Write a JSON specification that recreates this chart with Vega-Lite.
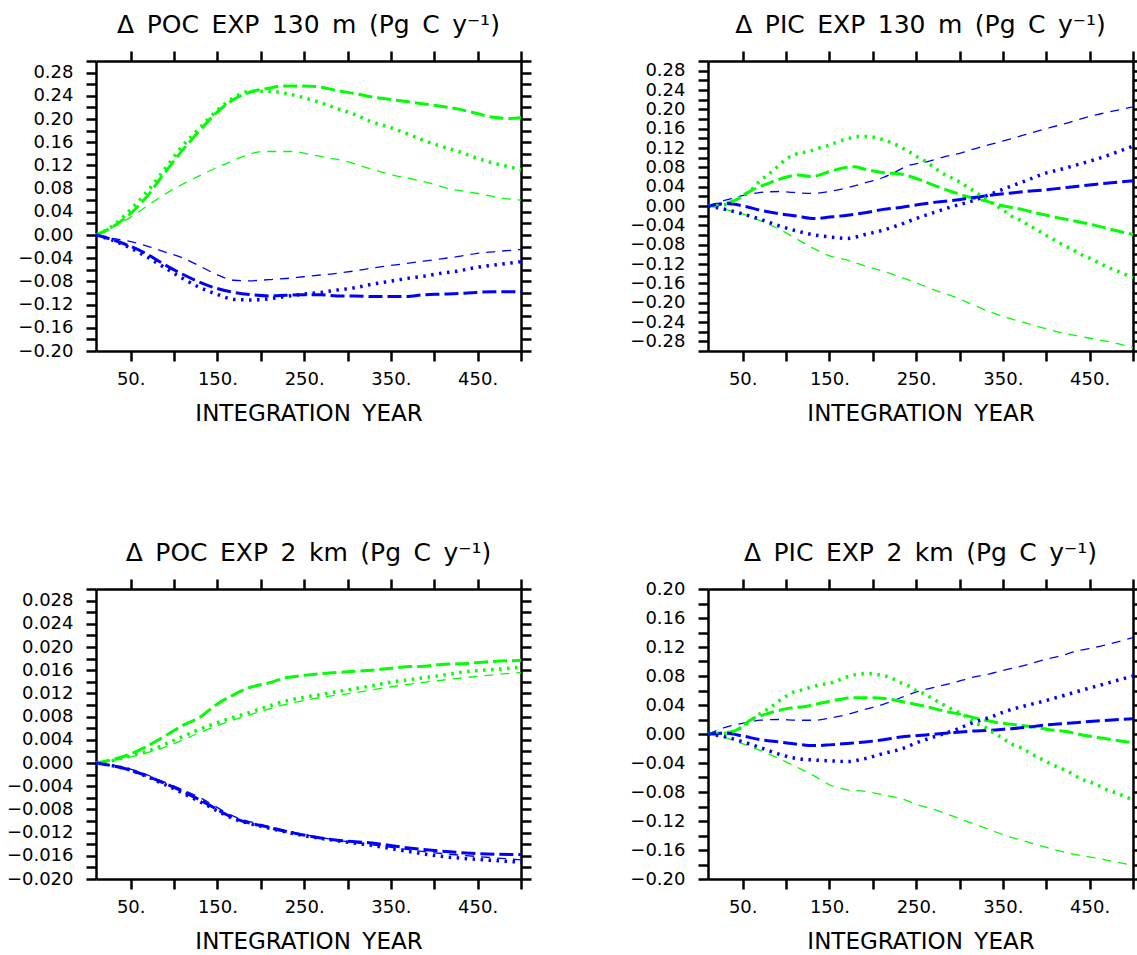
{
"$schema":"https://vega.github.io/schema/vega-lite/v6.json",
"padding":{"left":6,"top":12,"right":0,"bottom":0},
"background":"white",
"columns":2,
"bounds":"flush",
"spacing":{"row":238,"column":187},
"datasets":{"d":[
{"p":"TL","g":"G","m":"k","x":10,"y":0},{"p":"TL","g":"G","m":"k","x":29,"y":0.014},{"p":"TL","g":"G","m":"k","x":49,"y":0.036},{"p":"TL","g":"G","m":"k","x":69,"y":0.067},{"p":"TL","g":"G","m":"k","x":89,"y":0.107},{"p":"TL","g":"G","m":"k","x":109,"y":0.145},{"p":"TL","g":"G","m":"k","x":129,"y":0.179},{"p":"TL","g":"G","m":"k","x":149,"y":0.211},{"p":"TL","g":"G","m":"k","x":169,"y":0.234},{"p":"TL","g":"G","m":"k","x":189,"y":0.247},{"p":"TL","g":"G","m":"k","x":209,"y":0.253},{"p":"TL","g":"G","m":"k","x":225,"y":0.257},{"p":"TL","g":"G","m":"k","x":249,"y":0.257},{"p":"TL","g":"G","m":"k","x":269,"y":0.255},{"p":"TL","g":"G","m":"k","x":288,"y":0.249},{"p":"TL","g":"G","m":"k","x":308,"y":0.244},{"p":"TL","g":"G","m":"k","x":328,"y":0.238},{"p":"TL","g":"G","m":"k","x":348,"y":0.234},{"p":"TL","g":"G","m":"k","x":368,"y":0.230},{"p":"TL","g":"G","m":"k","x":388,"y":0.226},{"p":"TL","g":"G","m":"k","x":408,"y":0.222},{"p":"TL","g":"G","m":"k","x":428,"y":0.217},{"p":"TL","g":"G","m":"k","x":448,"y":0.210},{"p":"TL","g":"G","m":"k","x":468,"y":0.203},{"p":"TL","g":"G","m":"k","x":488,"y":0.201},{"p":"TL","g":"G","m":"k","x":500,"y":0.202},
{"p":"TL","g":"G","m":"d","x":10,"y":0},{"p":"TL","g":"G","m":"d","x":29,"y":0.0155},{"p":"TL","g":"G","m":"d","x":49,"y":0.0425},{"p":"TL","g":"G","m":"d","x":69,"y":0.075},{"p":"TL","g":"G","m":"d","x":89,"y":0.113},{"p":"TL","g":"G","m":"d","x":109,"y":0.152},{"p":"TL","g":"G","m":"d","x":129,"y":0.184},{"p":"TL","g":"G","m":"d","x":149,"y":0.214},{"p":"TL","g":"G","m":"d","x":169,"y":0.237},{"p":"TL","g":"G","m":"d","x":189,"y":0.248},{"p":"TL","g":"G","m":"d","x":209,"y":0.248},{"p":"TL","g":"G","m":"d","x":229,"y":0.244},{"p":"TL","g":"G","m":"d","x":249,"y":0.237},{"p":"TL","g":"G","m":"d","x":269,"y":0.228},{"p":"TL","g":"G","m":"d","x":288,"y":0.218},{"p":"TL","g":"G","m":"d","x":308,"y":0.208},{"p":"TL","g":"G","m":"d","x":328,"y":0.195},{"p":"TL","g":"G","m":"d","x":348,"y":0.186},{"p":"TL","g":"G","m":"d","x":368,"y":0.175},{"p":"TL","g":"G","m":"d","x":388,"y":0.163},{"p":"TL","g":"G","m":"d","x":408,"y":0.153},{"p":"TL","g":"G","m":"d","x":428,"y":0.144},{"p":"TL","g":"G","m":"d","x":448,"y":0.133},{"p":"TL","g":"G","m":"d","x":468,"y":0.124},{"p":"TL","g":"G","m":"d","x":488,"y":0.117},{"p":"TL","g":"G","m":"d","x":500,"y":0.112},
{"p":"TL","g":"G","m":"t","x":10,"y":0},{"p":"TL","g":"G","m":"t","x":29,"y":0.013},{"p":"TL","g":"G","m":"t","x":49,"y":0.030},{"p":"TL","g":"G","m":"t","x":69,"y":0.050},{"p":"TL","g":"G","m":"t","x":89,"y":0.070},{"p":"TL","g":"G","m":"t","x":109,"y":0.087},{"p":"TL","g":"G","m":"t","x":129,"y":0.102},{"p":"TL","g":"G","m":"t","x":149,"y":0.116},{"p":"TL","g":"G","m":"t","x":169,"y":0.129},{"p":"TL","g":"G","m":"t","x":189,"y":0.140},{"p":"TL","g":"G","m":"t","x":201,"y":0.144},{"p":"TL","g":"G","m":"t","x":217,"y":0.144},{"p":"TL","g":"G","m":"t","x":237,"y":0.144},{"p":"TL","g":"G","m":"t","x":257,"y":0.139},{"p":"TL","g":"G","m":"t","x":277,"y":0.133},{"p":"TL","g":"G","m":"t","x":296,"y":0.128},{"p":"TL","g":"G","m":"t","x":316,"y":0.119},{"p":"TL","g":"G","m":"t","x":336,"y":0.110},{"p":"TL","g":"G","m":"t","x":356,"y":0.102},{"p":"TL","g":"G","m":"t","x":376,"y":0.096},{"p":"TL","g":"G","m":"t","x":396,"y":0.089},{"p":"TL","g":"G","m":"t","x":416,"y":0.080},{"p":"TL","g":"G","m":"t","x":436,"y":0.075},{"p":"TL","g":"G","m":"t","x":456,"y":0.070},{"p":"TL","g":"G","m":"t","x":476,"y":0.064},{"p":"TL","g":"G","m":"t","x":500,"y":0.060},
{"p":"TL","g":"B","m":"t","x":10,"y":0},{"p":"TL","g":"B","m":"t","x":29,"y":-0.006},{"p":"TL","g":"B","m":"t","x":49,"y":-0.011},{"p":"TL","g":"B","m":"t","x":69,"y":-0.019},{"p":"TL","g":"B","m":"t","x":89,"y":-0.029},{"p":"TL","g":"B","m":"t","x":109,"y":-0.039},{"p":"TL","g":"B","m":"t","x":129,"y":-0.053},{"p":"TL","g":"B","m":"t","x":149,"y":-0.068},{"p":"TL","g":"B","m":"t","x":169,"y":-0.078},{"p":"TL","g":"B","m":"t","x":185,"y":-0.079},{"p":"TL","g":"B","m":"t","x":209,"y":-0.077},{"p":"TL","g":"B","m":"t","x":229,"y":-0.075},{"p":"TL","g":"B","m":"t","x":249,"y":-0.072},{"p":"TL","g":"B","m":"t","x":269,"y":-0.069},{"p":"TL","g":"B","m":"t","x":288,"y":-0.066},{"p":"TL","g":"B","m":"t","x":308,"y":-0.062},{"p":"TL","g":"B","m":"t","x":328,"y":-0.057},{"p":"TL","g":"B","m":"t","x":348,"y":-0.053},{"p":"TL","g":"B","m":"t","x":368,"y":-0.049},{"p":"TL","g":"B","m":"t","x":388,"y":-0.045},{"p":"TL","g":"B","m":"t","x":408,"y":-0.041},{"p":"TL","g":"B","m":"t","x":428,"y":-0.037},{"p":"TL","g":"B","m":"t","x":448,"y":-0.032},{"p":"TL","g":"B","m":"t","x":468,"y":-0.029},{"p":"TL","g":"B","m":"t","x":500,"y":-0.025},
{"p":"TL","g":"B","m":"k","x":10,"y":0},{"p":"TL","g":"B","m":"k","x":29,"y":-0.008},{"p":"TL","g":"B","m":"k","x":49,"y":-0.019},{"p":"TL","g":"B","m":"k","x":69,"y":-0.033},{"p":"TL","g":"B","m":"k","x":89,"y":-0.051},{"p":"TL","g":"B","m":"k","x":109,"y":-0.067},{"p":"TL","g":"B","m":"k","x":129,"y":-0.081},{"p":"TL","g":"B","m":"k","x":149,"y":-0.092},{"p":"TL","g":"B","m":"k","x":169,"y":-0.099},{"p":"TL","g":"B","m":"k","x":189,"y":-0.103},{"p":"TL","g":"B","m":"k","x":209,"y":-0.105},{"p":"TL","g":"B","m":"k","x":229,"y":-0.104},{"p":"TL","g":"B","m":"k","x":249,"y":-0.103},{"p":"TL","g":"B","m":"k","x":269,"y":-0.103},{"p":"TL","g":"B","m":"k","x":288,"y":-0.105},{"p":"TL","g":"B","m":"k","x":308,"y":-0.105},{"p":"TL","g":"B","m":"k","x":328,"y":-0.106},{"p":"TL","g":"B","m":"k","x":348,"y":-0.106},{"p":"TL","g":"B","m":"k","x":368,"y":-0.106},{"p":"TL","g":"B","m":"k","x":388,"y":-0.103},{"p":"TL","g":"B","m":"k","x":408,"y":-0.102},{"p":"TL","g":"B","m":"k","x":428,"y":-0.101},{"p":"TL","g":"B","m":"k","x":448,"y":-0.099},{"p":"TL","g":"B","m":"k","x":468,"y":-0.098},{"p":"TL","g":"B","m":"k","x":500,"y":-0.098},
{"p":"TL","g":"B","m":"d","x":10,"y":0},{"p":"TL","g":"B","m":"d","x":29,"y":-0.009},{"p":"TL","g":"B","m":"d","x":49,"y":-0.022},{"p":"TL","g":"B","m":"d","x":69,"y":-0.038},{"p":"TL","g":"B","m":"d","x":89,"y":-0.056},{"p":"TL","g":"B","m":"d","x":109,"y":-0.074},{"p":"TL","g":"B","m":"d","x":129,"y":-0.090},{"p":"TL","g":"B","m":"d","x":149,"y":-0.102},{"p":"TL","g":"B","m":"d","x":169,"y":-0.111},{"p":"TL","g":"B","m":"d","x":189,"y":-0.112},{"p":"TL","g":"B","m":"d","x":209,"y":-0.110},{"p":"TL","g":"B","m":"d","x":229,"y":-0.106},{"p":"TL","g":"B","m":"d","x":249,"y":-0.102},{"p":"TL","g":"B","m":"d","x":269,"y":-0.099},{"p":"TL","g":"B","m":"d","x":288,"y":-0.095},{"p":"TL","g":"B","m":"d","x":308,"y":-0.091},{"p":"TL","g":"B","m":"d","x":328,"y":-0.085},{"p":"TL","g":"B","m":"d","x":348,"y":-0.080},{"p":"TL","g":"B","m":"d","x":368,"y":-0.075},{"p":"TL","g":"B","m":"d","x":388,"y":-0.071},{"p":"TL","g":"B","m":"d","x":408,"y":-0.066},{"p":"TL","g":"B","m":"d","x":428,"y":-0.062},{"p":"TL","g":"B","m":"d","x":448,"y":-0.056},{"p":"TL","g":"B","m":"d","x":468,"y":-0.052},{"p":"TL","g":"B","m":"d","x":500,"y":-0.046},

{"p":"TR","g":"G","m":"d","x":10,"y":0},{"p":"TR","g":"G","m":"d","x":30,"y":0.003},{"p":"TR","g":"G","m":"d","x":39,"y":0.010},{"p":"TR","g":"G","m":"d","x":50,"y":0.021},{"p":"TR","g":"G","m":"d","x":60,"y":0.034},{"p":"TR","g":"G","m":"d","x":70,"y":0.052},{"p":"TR","g":"G","m":"d","x":81,"y":0.067},{"p":"TR","g":"G","m":"d","x":91,"y":0.083},{"p":"TR","g":"G","m":"d","x":100,"y":0.097},{"p":"TR","g":"G","m":"d","x":109,"y":0.106},{"p":"TR","g":"G","m":"d","x":119,"y":0.110},{"p":"TR","g":"G","m":"d","x":130,"y":0.115},{"p":"TR","g":"G","m":"d","x":140,"y":0.121},{"p":"TR","g":"G","m":"d","x":150,"y":0.126},{"p":"TR","g":"G","m":"d","x":160,"y":0.133},{"p":"TR","g":"G","m":"d","x":171,"y":0.139},{"p":"TR","g":"G","m":"d","x":181,"y":0.143},{"p":"TR","g":"G","m":"d","x":190,"y":0.144},{"p":"TR","g":"G","m":"d","x":199,"y":0.143},{"p":"TR","g":"G","m":"d","x":210,"y":0.138},{"p":"TR","g":"G","m":"d","x":220,"y":0.132},{"p":"TR","g":"G","m":"d","x":230,"y":0.124},{"p":"TR","g":"G","m":"d","x":240,"y":0.114},{"p":"TR","g":"G","m":"d","x":250,"y":0.103},{"p":"TR","g":"G","m":"d","x":260,"y":0.093},{"p":"TR","g":"G","m":"d","x":270,"y":0.081},{"p":"TR","g":"G","m":"d","x":279,"y":0.069},{"p":"TR","g":"G","m":"d","x":290,"y":0.059},{"p":"TR","g":"G","m":"d","x":300,"y":0.050},{"p":"TR","g":"G","m":"d","x":310,"y":0.038},{"p":"TR","g":"G","m":"d","x":319,"y":0.028},{"p":"TR","g":"G","m":"d","x":330,"y":0.014},{"p":"TR","g":"G","m":"d","x":340,"y":0.003},{"p":"TR","g":"G","m":"d","x":350,"y":-0.008},{"p":"TR","g":"G","m":"d","x":360,"y":-0.021},{"p":"TR","g":"G","m":"d","x":371,"y":-0.030},{"p":"TR","g":"G","m":"d","x":381,"y":-0.041},{"p":"TR","g":"G","m":"d","x":390,"y":-0.050},{"p":"TR","g":"G","m":"d","x":400,"y":-0.061},{"p":"TR","g":"G","m":"d","x":410,"y":-0.071},{"p":"TR","g":"G","m":"d","x":420,"y":-0.081},{"p":"TR","g":"G","m":"d","x":430,"y":-0.090},{"p":"TR","g":"G","m":"d","x":440,"y":-0.100},{"p":"TR","g":"G","m":"d","x":450,"y":-0.108},{"p":"TR","g":"G","m":"d","x":460,"y":-0.117},{"p":"TR","g":"G","m":"d","x":470,"y":-0.126},{"p":"TR","g":"G","m":"d","x":480,"y":-0.133},{"p":"TR","g":"G","m":"d","x":490,"y":-0.141},{"p":"TR","g":"G","m":"d","x":500,"y":-0.148},
{"p":"TR","g":"G","m":"k","x":10,"y":0},{"p":"TR","g":"G","m":"k","x":39,"y":0.010},{"p":"TR","g":"G","m":"k","x":60,"y":0.032},{"p":"TR","g":"G","m":"k","x":81,"y":0.048},{"p":"TR","g":"G","m":"k","x":101,"y":0.060},{"p":"TR","g":"G","m":"k","x":113,"y":0.064},{"p":"TR","g":"G","m":"k","x":130,"y":0.061},{"p":"TR","g":"G","m":"k","x":150,"y":0.071},{"p":"TR","g":"G","m":"k","x":167,"y":0.079},{"p":"TR","g":"G","m":"k","x":179,"y":0.081},{"p":"TR","g":"G","m":"k","x":191,"y":0.076},{"p":"TR","g":"G","m":"k","x":212,"y":0.069},{"p":"TR","g":"G","m":"k","x":232,"y":0.066},{"p":"TR","g":"G","m":"k","x":253,"y":0.055},{"p":"TR","g":"G","m":"k","x":273,"y":0.041},{"p":"TR","g":"G","m":"k","x":294,"y":0.028},{"p":"TR","g":"G","m":"k","x":314,"y":0.017},{"p":"TR","g":"G","m":"k","x":331,"y":0.010},{"p":"TR","g":"G","m":"k","x":351,"y":0.000},{"p":"TR","g":"G","m":"k","x":372,"y":-0.007},{"p":"TR","g":"G","m":"k","x":392,"y":-0.016},{"p":"TR","g":"G","m":"k","x":413,"y":-0.024},{"p":"TR","g":"G","m":"k","x":433,"y":-0.031},{"p":"TR","g":"G","m":"k","x":454,"y":-0.039},{"p":"TR","g":"G","m":"k","x":474,"y":-0.048},{"p":"TR","g":"G","m":"k","x":500,"y":-0.059},
{"p":"TR","g":"G","m":"t","x":10,"y":0},{"p":"TR","g":"G","m":"t","x":30,"y":-0.007},{"p":"TR","g":"G","m":"t","x":51,"y":-0.017},{"p":"TR","g":"G","m":"t","x":71,"y":-0.031},{"p":"TR","g":"G","m":"t","x":92,"y":-0.048},{"p":"TR","g":"G","m":"t","x":113,"y":-0.069},{"p":"TR","g":"G","m":"t","x":130,"y":-0.086},{"p":"TR","g":"G","m":"t","x":150,"y":-0.103},{"p":"TR","g":"G","m":"t","x":171,"y":-0.112},{"p":"TR","g":"G","m":"t","x":191,"y":-0.124},{"p":"TR","g":"G","m":"t","x":212,"y":-0.135},{"p":"TR","g":"G","m":"t","x":232,"y":-0.147},{"p":"TR","g":"G","m":"t","x":253,"y":-0.161},{"p":"TR","g":"G","m":"t","x":273,"y":-0.175},{"p":"TR","g":"G","m":"t","x":294,"y":-0.188},{"p":"TR","g":"G","m":"t","x":314,"y":-0.203},{"p":"TR","g":"G","m":"t","x":335,"y":-0.219},{"p":"TR","g":"G","m":"t","x":355,"y":-0.231},{"p":"TR","g":"G","m":"t","x":376,"y":-0.242},{"p":"TR","g":"G","m":"t","x":396,"y":-0.252},{"p":"TR","g":"G","m":"t","x":417,"y":-0.262},{"p":"TR","g":"G","m":"t","x":437,"y":-0.269},{"p":"TR","g":"G","m":"t","x":458,"y":-0.276},{"p":"TR","g":"G","m":"t","x":478,"y":-0.283},{"p":"TR","g":"G","m":"t","x":500,"y":-0.293},
{"p":"TR","g":"B","m":"t","x":10,"y":0},{"p":"TR","g":"B","m":"t","x":30,"y":0.012},{"p":"TR","g":"B","m":"t","x":51,"y":0.022},{"p":"TR","g":"B","m":"t","x":71,"y":0.028},{"p":"TR","g":"B","m":"t","x":92,"y":0.030},{"p":"TR","g":"B","m":"t","x":109,"y":0.028},{"p":"TR","g":"B","m":"t","x":130,"y":0.026},{"p":"TR","g":"B","m":"t","x":150,"y":0.030},{"p":"TR","g":"B","m":"t","x":171,"y":0.038},{"p":"TR","g":"B","m":"t","x":191,"y":0.048},{"p":"TR","g":"B","m":"t","x":212,"y":0.059},{"p":"TR","g":"B","m":"t","x":224,"y":0.069},{"p":"TR","g":"B","m":"t","x":240,"y":0.083},{"p":"TR","g":"B","m":"t","x":261,"y":0.091},{"p":"TR","g":"B","m":"t","x":281,"y":0.101},{"p":"TR","g":"B","m":"t","x":302,"y":0.110},{"p":"TR","g":"B","m":"t","x":322,"y":0.121},{"p":"TR","g":"B","m":"t","x":343,"y":0.131},{"p":"TR","g":"B","m":"t","x":363,"y":0.141},{"p":"TR","g":"B","m":"t","x":384,"y":0.152},{"p":"TR","g":"B","m":"t","x":404,"y":0.162},{"p":"TR","g":"B","m":"t","x":425,"y":0.172},{"p":"TR","g":"B","m":"t","x":445,"y":0.183},{"p":"TR","g":"B","m":"t","x":466,"y":0.192},{"p":"TR","g":"B","m":"t","x":500,"y":0.205},
{"p":"TR","g":"B","m":"k","x":10,"y":0},{"p":"TR","g":"B","m":"k","x":30,"y":0.005},{"p":"TR","g":"B","m":"k","x":51,"y":0.000},{"p":"TR","g":"B","m":"k","x":71,"y":-0.009},{"p":"TR","g":"B","m":"k","x":92,"y":-0.016},{"p":"TR","g":"B","m":"k","x":113,"y":-0.021},{"p":"TR","g":"B","m":"k","x":133,"y":-0.026},{"p":"TR","g":"B","m":"k","x":150,"y":-0.023},{"p":"TR","g":"B","m":"k","x":171,"y":-0.019},{"p":"TR","g":"B","m":"k","x":191,"y":-0.014},{"p":"TR","g":"B","m":"k","x":212,"y":-0.007},{"p":"TR","g":"B","m":"k","x":232,"y":-0.003},{"p":"TR","g":"B","m":"k","x":253,"y":0.003},{"p":"TR","g":"B","m":"k","x":273,"y":0.008},{"p":"TR","g":"B","m":"k","x":294,"y":0.012},{"p":"TR","g":"B","m":"k","x":314,"y":0.017},{"p":"TR","g":"B","m":"k","x":335,"y":0.022},{"p":"TR","g":"B","m":"k","x":355,"y":0.026},{"p":"TR","g":"B","m":"k","x":376,"y":0.030},{"p":"TR","g":"B","m":"k","x":396,"y":0.033},{"p":"TR","g":"B","m":"k","x":417,"y":0.037},{"p":"TR","g":"B","m":"k","x":437,"y":0.041},{"p":"TR","g":"B","m":"k","x":458,"y":0.045},{"p":"TR","g":"B","m":"k","x":500,"y":0.052},
{"p":"TR","g":"B","m":"d","x":10,"y":0},{"p":"TR","g":"B","m":"d","x":30,"y":-0.007},{"p":"TR","g":"B","m":"d","x":51,"y":-0.017},{"p":"TR","g":"B","m":"d","x":71,"y":-0.028},{"p":"TR","g":"B","m":"d","x":92,"y":-0.041},{"p":"TR","g":"B","m":"d","x":113,"y":-0.052},{"p":"TR","g":"B","m":"d","x":130,"y":-0.059},{"p":"TR","g":"B","m":"d","x":150,"y":-0.064},{"p":"TR","g":"B","m":"d","x":171,"y":-0.067},{"p":"TR","g":"B","m":"d","x":191,"y":-0.059},{"p":"TR","g":"B","m":"d","x":212,"y":-0.050},{"p":"TR","g":"B","m":"d","x":232,"y":-0.038},{"p":"TR","g":"B","m":"d","x":253,"y":-0.024},{"p":"TR","g":"B","m":"d","x":273,"y":-0.012},{"p":"TR","g":"B","m":"d","x":294,"y":0.000},{"p":"TR","g":"B","m":"d","x":314,"y":0.010},{"p":"TR","g":"B","m":"d","x":335,"y":0.024},{"p":"TR","g":"B","m":"d","x":355,"y":0.038},{"p":"TR","g":"B","m":"d","x":376,"y":0.052},{"p":"TR","g":"B","m":"d","x":396,"y":0.066},{"p":"TR","g":"B","m":"d","x":417,"y":0.076},{"p":"TR","g":"B","m":"d","x":437,"y":0.086},{"p":"TR","g":"B","m":"d","x":458,"y":0.097},{"p":"TR","g":"B","m":"d","x":500,"y":0.124},

{"p":"BL","g":"G","m":"k","x":10,"y":0},{"p":"BL","g":"G","m":"k","x":29,"y":0.0006},{"p":"BL","g":"G","m":"k","x":49,"y":0.0015},{"p":"BL","g":"G","m":"k","x":69,"y":0.0029},{"p":"BL","g":"G","m":"k","x":89,"y":0.0046},{"p":"BL","g":"G","m":"k","x":109,"y":0.0064},{"p":"BL","g":"G","m":"k","x":129,"y":0.0078},{"p":"BL","g":"G","m":"k","x":149,"y":0.0101},{"p":"BL","g":"G","m":"k","x":169,"y":0.0118},{"p":"BL","g":"G","m":"k","x":189,"y":0.0131},{"p":"BL","g":"G","m":"k","x":209,"y":0.0138},{"p":"BL","g":"G","m":"k","x":229,"y":0.0147},{"p":"BL","g":"G","m":"k","x":249,"y":0.0151},{"p":"BL","g":"G","m":"k","x":269,"y":0.0154},{"p":"BL","g":"G","m":"k","x":288,"y":0.0156},{"p":"BL","g":"G","m":"k","x":308,"y":0.0158},{"p":"BL","g":"G","m":"k","x":328,"y":0.0160},{"p":"BL","g":"G","m":"k","x":348,"y":0.0163},{"p":"BL","g":"G","m":"k","x":368,"y":0.0166},{"p":"BL","g":"G","m":"k","x":388,"y":0.0167},{"p":"BL","g":"G","m":"k","x":408,"y":0.0170},{"p":"BL","g":"G","m":"k","x":428,"y":0.0171},{"p":"BL","g":"G","m":"k","x":448,"y":0.0173},{"p":"BL","g":"G","m":"k","x":468,"y":0.0175},{"p":"BL","g":"G","m":"k","x":500,"y":0.0177},
{"p":"BL","g":"G","m":"d","x":10,"y":0},{"p":"BL","g":"G","m":"d","x":29,"y":0.0004},{"p":"BL","g":"G","m":"d","x":49,"y":0.0012},{"p":"BL","g":"G","m":"d","x":69,"y":0.0020},{"p":"BL","g":"G","m":"d","x":89,"y":0.0032},{"p":"BL","g":"G","m":"d","x":109,"y":0.0045},{"p":"BL","g":"G","m":"d","x":129,"y":0.0058},{"p":"BL","g":"G","m":"d","x":149,"y":0.0069},{"p":"BL","g":"G","m":"d","x":169,"y":0.0079},{"p":"BL","g":"G","m":"d","x":189,"y":0.0088},{"p":"BL","g":"G","m":"d","x":209,"y":0.0098},{"p":"BL","g":"G","m":"d","x":229,"y":0.0107},{"p":"BL","g":"G","m":"d","x":249,"y":0.0113},{"p":"BL","g":"G","m":"d","x":269,"y":0.0118},{"p":"BL","g":"G","m":"d","x":288,"y":0.0123},{"p":"BL","g":"G","m":"d","x":308,"y":0.0128},{"p":"BL","g":"G","m":"d","x":328,"y":0.0133},{"p":"BL","g":"G","m":"d","x":348,"y":0.0139},{"p":"BL","g":"G","m":"d","x":368,"y":0.0143},{"p":"BL","g":"G","m":"d","x":388,"y":0.0147},{"p":"BL","g":"G","m":"d","x":408,"y":0.0151},{"p":"BL","g":"G","m":"d","x":428,"y":0.0156},{"p":"BL","g":"G","m":"d","x":448,"y":0.0159},{"p":"BL","g":"G","m":"d","x":468,"y":0.0161},{"p":"BL","g":"G","m":"d","x":500,"y":0.0165},
{"p":"BL","g":"G","m":"t","x":10,"y":0},{"p":"BL","g":"G","m":"t","x":49,"y":0.0010},{"p":"BL","g":"G","m":"t","x":89,"y":0.0027},{"p":"BL","g":"G","m":"t","x":129,"y":0.0052},{"p":"BL","g":"G","m":"t","x":149,"y":0.0064},{"p":"BL","g":"G","m":"t","x":189,"y":0.0084},{"p":"BL","g":"G","m":"t","x":229,"y":0.0101},{"p":"BL","g":"G","m":"t","x":269,"y":0.0113},{"p":"BL","g":"G","m":"t","x":308,"y":0.0121},{"p":"BL","g":"G","m":"t","x":348,"y":0.0131},{"p":"BL","g":"G","m":"t","x":388,"y":0.0139},{"p":"BL","g":"G","m":"t","x":428,"y":0.0146},{"p":"BL","g":"G","m":"t","x":468,"y":0.0152},{"p":"BL","g":"G","m":"t","x":500,"y":0.0156},
{"p":"BL","g":"B","m":"k","x":10,"y":0},{"p":"BL","g":"B","m":"k","x":49,"y":-0.0012},{"p":"BL","g":"B","m":"k","x":89,"y":-0.0035},{"p":"BL","g":"B","m":"k","x":129,"y":-0.0063},{"p":"BL","g":"B","m":"k","x":169,"y":-0.0095},{"p":"BL","g":"B","m":"k","x":209,"y":-0.0111},{"p":"BL","g":"B","m":"k","x":249,"y":-0.0124},{"p":"BL","g":"B","m":"k","x":288,"y":-0.0133},{"p":"BL","g":"B","m":"k","x":328,"y":-0.0138},{"p":"BL","g":"B","m":"k","x":368,"y":-0.0146},{"p":"BL","g":"B","m":"k","x":408,"y":-0.0152},{"p":"BL","g":"B","m":"k","x":448,"y":-0.0156},{"p":"BL","g":"B","m":"k","x":500,"y":-0.0158},
{"p":"BL","g":"B","m":"d","x":10,"y":0},{"p":"BL","g":"B","m":"d","x":49,"y":-0.0012},{"p":"BL","g":"B","m":"d","x":89,"y":-0.0037},{"p":"BL","g":"B","m":"d","x":129,"y":-0.0066},{"p":"BL","g":"B","m":"d","x":169,"y":-0.0096},{"p":"BL","g":"B","m":"d","x":209,"y":-0.0112},{"p":"BL","g":"B","m":"d","x":249,"y":-0.0125},{"p":"BL","g":"B","m":"d","x":288,"y":-0.0134},{"p":"BL","g":"B","m":"d","x":328,"y":-0.0142},{"p":"BL","g":"B","m":"d","x":368,"y":-0.0152},{"p":"BL","g":"B","m":"d","x":408,"y":-0.0161},{"p":"BL","g":"B","m":"d","x":448,"y":-0.0166},{"p":"BL","g":"B","m":"d","x":500,"y":-0.0171},
{"p":"BL","g":"B","m":"t","x":10,"y":0},{"p":"BL","g":"B","m":"t","x":49,"y":-0.0010},{"p":"BL","g":"B","m":"t","x":89,"y":-0.0033},{"p":"BL","g":"B","m":"t","x":129,"y":-0.0059},{"p":"BL","g":"B","m":"t","x":169,"y":-0.0092},{"p":"BL","g":"B","m":"t","x":209,"y":-0.0109},{"p":"BL","g":"B","m":"t","x":249,"y":-0.0123},{"p":"BL","g":"B","m":"t","x":288,"y":-0.0133},{"p":"BL","g":"B","m":"t","x":328,"y":-0.0141},{"p":"BL","g":"B","m":"t","x":368,"y":-0.0149},{"p":"BL","g":"B","m":"t","x":408,"y":-0.0156},{"p":"BL","g":"B","m":"t","x":448,"y":-0.0161},{"p":"BL","g":"B","m":"t","x":500,"y":-0.0167},

{"p":"BR","g":"G","m":"d","x":10,"y":0},{"p":"BR","g":"G","m":"d","x":30,"y":0.001},{"p":"BR","g":"G","m":"d","x":42,"y":0.005},{"p":"BR","g":"G","m":"d","x":52,"y":0.012},{"p":"BR","g":"G","m":"d","x":60,"y":0.019},{"p":"BR","g":"G","m":"d","x":70,"y":0.028},{"p":"BR","g":"G","m":"d","x":81,"y":0.036},{"p":"BR","g":"G","m":"d","x":91,"y":0.045},{"p":"BR","g":"G","m":"d","x":100,"y":0.052},{"p":"BR","g":"G","m":"d","x":109,"y":0.058},{"p":"BR","g":"G","m":"d","x":119,"y":0.061},{"p":"BR","g":"G","m":"d","x":130,"y":0.065},{"p":"BR","g":"G","m":"d","x":140,"y":0.068},{"p":"BR","g":"G","m":"d","x":150,"y":0.070},{"p":"BR","g":"G","m":"d","x":160,"y":0.074},{"p":"BR","g":"G","m":"d","x":171,"y":0.079},{"p":"BR","g":"G","m":"d","x":181,"y":0.082},{"p":"BR","g":"G","m":"d","x":190,"y":0.083},{"p":"BR","g":"G","m":"d","x":199,"y":0.083},{"p":"BR","g":"G","m":"d","x":210,"y":0.081},{"p":"BR","g":"G","m":"d","x":220,"y":0.078},{"p":"BR","g":"G","m":"d","x":230,"y":0.072},{"p":"BR","g":"G","m":"d","x":240,"y":0.067},{"p":"BR","g":"G","m":"d","x":250,"y":0.060},{"p":"BR","g":"G","m":"d","x":260,"y":0.055},{"p":"BR","g":"G","m":"d","x":270,"y":0.048},{"p":"BR","g":"G","m":"d","x":279,"y":0.042},{"p":"BR","g":"G","m":"d","x":290,"y":0.035},{"p":"BR","g":"G","m":"d","x":300,"y":0.029},{"p":"BR","g":"G","m":"d","x":310,"y":0.022},{"p":"BR","g":"G","m":"d","x":319,"y":0.015},{"p":"BR","g":"G","m":"d","x":330,"y":0.009},{"p":"BR","g":"G","m":"d","x":340,"y":0.001},{"p":"BR","g":"G","m":"d","x":350,"y":-0.006},{"p":"BR","g":"G","m":"d","x":360,"y":-0.014},{"p":"BR","g":"G","m":"d","x":371,"y":-0.019},{"p":"BR","g":"G","m":"d","x":381,"y":-0.026},{"p":"BR","g":"G","m":"d","x":390,"y":-0.032},{"p":"BR","g":"G","m":"d","x":400,"y":-0.038},{"p":"BR","g":"G","m":"d","x":410,"y":-0.044},{"p":"BR","g":"G","m":"d","x":420,"y":-0.049},{"p":"BR","g":"G","m":"d","x":430,"y":-0.055},{"p":"BR","g":"G","m":"d","x":440,"y":-0.062},{"p":"BR","g":"G","m":"d","x":450,"y":-0.066},{"p":"BR","g":"G","m":"d","x":460,"y":-0.071},{"p":"BR","g":"G","m":"d","x":470,"y":-0.077},{"p":"BR","g":"G","m":"d","x":480,"y":-0.081},{"p":"BR","g":"G","m":"d","x":490,"y":-0.086},{"p":"BR","g":"G","m":"d","x":500,"y":-0.091},
{"p":"BR","g":"G","m":"k","x":10,"y":0},{"p":"BR","g":"G","m":"k","x":40,"y":0.004},{"p":"BR","g":"G","m":"k","x":60,"y":0.020},{"p":"BR","g":"G","m":"k","x":81,"y":0.029},{"p":"BR","g":"G","m":"k","x":101,"y":0.035},{"p":"BR","g":"G","m":"k","x":122,"y":0.038},{"p":"BR","g":"G","m":"k","x":142,"y":0.043},{"p":"BR","g":"G","m":"k","x":163,"y":0.048},{"p":"BR","g":"G","m":"k","x":179,"y":0.050},{"p":"BR","g":"G","m":"k","x":199,"y":0.050},{"p":"BR","g":"G","m":"k","x":220,"y":0.048},{"p":"BR","g":"G","m":"k","x":240,"y":0.043},{"p":"BR","g":"G","m":"k","x":261,"y":0.038},{"p":"BR","g":"G","m":"k","x":281,"y":0.032},{"p":"BR","g":"G","m":"k","x":302,"y":0.027},{"p":"BR","g":"G","m":"k","x":322,"y":0.021},{"p":"BR","g":"G","m":"k","x":343,"y":0.016},{"p":"BR","g":"G","m":"k","x":363,"y":0.013},{"p":"BR","g":"G","m":"k","x":384,"y":0.010},{"p":"BR","g":"G","m":"k","x":404,"y":0.006},{"p":"BR","g":"G","m":"k","x":425,"y":0.003},{"p":"BR","g":"G","m":"k","x":445,"y":-0.002},{"p":"BR","g":"G","m":"k","x":466,"y":-0.006},{"p":"BR","g":"G","m":"k","x":500,"y":-0.012},
{"p":"BR","g":"G","m":"t","x":10,"y":0},{"p":"BR","g":"G","m":"t","x":30,"y":-0.005},{"p":"BR","g":"G","m":"t","x":51,"y":-0.014},{"p":"BR","g":"G","m":"t","x":71,"y":-0.023},{"p":"BR","g":"G","m":"t","x":92,"y":-0.034},{"p":"BR","g":"G","m":"t","x":113,"y":-0.046},{"p":"BR","g":"G","m":"t","x":130,"y":-0.056},{"p":"BR","g":"G","m":"t","x":150,"y":-0.070},{"p":"BR","g":"G","m":"t","x":171,"y":-0.077},{"p":"BR","g":"G","m":"t","x":191,"y":-0.079},{"p":"BR","g":"G","m":"t","x":212,"y":-0.084},{"p":"BR","g":"G","m":"t","x":232,"y":-0.089},{"p":"BR","g":"G","m":"t","x":253,"y":-0.098},{"p":"BR","g":"G","m":"t","x":273,"y":-0.105},{"p":"BR","g":"G","m":"t","x":294,"y":-0.114},{"p":"BR","g":"G","m":"t","x":314,"y":-0.123},{"p":"BR","g":"G","m":"t","x":335,"y":-0.132},{"p":"BR","g":"G","m":"t","x":355,"y":-0.141},{"p":"BR","g":"G","m":"t","x":376,"y":-0.148},{"p":"BR","g":"G","m":"t","x":396,"y":-0.155},{"p":"BR","g":"G","m":"t","x":417,"y":-0.162},{"p":"BR","g":"G","m":"t","x":437,"y":-0.167},{"p":"BR","g":"G","m":"t","x":458,"y":-0.171},{"p":"BR","g":"G","m":"t","x":478,"y":-0.176},{"p":"BR","g":"G","m":"t","x":500,"y":-0.181},
{"p":"BR","g":"B","m":"t","x":10,"y":0},{"p":"BR","g":"B","m":"t","x":30,"y":0.009},{"p":"BR","g":"B","m":"t","x":51,"y":0.015},{"p":"BR","g":"B","m":"t","x":71,"y":0.019},{"p":"BR","g":"B","m":"t","x":92,"y":0.020},{"p":"BR","g":"B","m":"t","x":113,"y":0.019},{"p":"BR","g":"B","m":"t","x":133,"y":0.019},{"p":"BR","g":"B","m":"t","x":150,"y":0.022},{"p":"BR","g":"B","m":"t","x":171,"y":0.027},{"p":"BR","g":"B","m":"t","x":191,"y":0.034},{"p":"BR","g":"B","m":"t","x":212,"y":0.041},{"p":"BR","g":"B","m":"t","x":232,"y":0.050},{"p":"BR","g":"B","m":"t","x":253,"y":0.059},{"p":"BR","g":"B","m":"t","x":273,"y":0.065},{"p":"BR","g":"B","m":"t","x":294,"y":0.071},{"p":"BR","g":"B","m":"t","x":314,"y":0.078},{"p":"BR","g":"B","m":"t","x":335,"y":0.083},{"p":"BR","g":"B","m":"t","x":355,"y":0.089},{"p":"BR","g":"B","m":"t","x":376,"y":0.095},{"p":"BR","g":"B","m":"t","x":396,"y":0.102},{"p":"BR","g":"B","m":"t","x":417,"y":0.108},{"p":"BR","g":"B","m":"t","x":437,"y":0.115},{"p":"BR","g":"B","m":"t","x":458,"y":0.120},{"p":"BR","g":"B","m":"t","x":500,"y":0.133},
{"p":"BR","g":"B","m":"k","x":10,"y":0},{"p":"BR","g":"B","m":"k","x":30,"y":0.001},{"p":"BR","g":"B","m":"k","x":51,"y":-0.003},{"p":"BR","g":"B","m":"k","x":71,"y":-0.008},{"p":"BR","g":"B","m":"k","x":92,"y":-0.011},{"p":"BR","g":"B","m":"k","x":113,"y":-0.014},{"p":"BR","g":"B","m":"k","x":133,"y":-0.016},{"p":"BR","g":"B","m":"k","x":150,"y":-0.015},{"p":"BR","g":"B","m":"k","x":171,"y":-0.013},{"p":"BR","g":"B","m":"k","x":191,"y":-0.011},{"p":"BR","g":"B","m":"k","x":212,"y":-0.008},{"p":"BR","g":"B","m":"k","x":232,"y":-0.004},{"p":"BR","g":"B","m":"k","x":253,"y":-0.002},{"p":"BR","g":"B","m":"k","x":273,"y":0.000},{"p":"BR","g":"B","m":"k","x":294,"y":0.002},{"p":"BR","g":"B","m":"k","x":314,"y":0.004},{"p":"BR","g":"B","m":"k","x":335,"y":0.005},{"p":"BR","g":"B","m":"k","x":355,"y":0.007},{"p":"BR","g":"B","m":"k","x":376,"y":0.009},{"p":"BR","g":"B","m":"k","x":396,"y":0.012},{"p":"BR","g":"B","m":"k","x":417,"y":0.014},{"p":"BR","g":"B","m":"k","x":437,"y":0.016},{"p":"BR","g":"B","m":"k","x":458,"y":0.018},{"p":"BR","g":"B","m":"k","x":500,"y":0.021},
{"p":"BR","g":"B","m":"d","x":10,"y":0},{"p":"BR","g":"B","m":"d","x":30,"y":-0.004},{"p":"BR","g":"B","m":"d","x":51,"y":-0.011},{"p":"BR","g":"B","m":"d","x":71,"y":-0.019},{"p":"BR","g":"B","m":"d","x":92,"y":-0.028},{"p":"BR","g":"B","m":"d","x":113,"y":-0.034},{"p":"BR","g":"B","m":"d","x":133,"y":-0.036},{"p":"BR","g":"B","m":"d","x":150,"y":-0.037},{"p":"BR","g":"B","m":"d","x":171,"y":-0.038},{"p":"BR","g":"B","m":"d","x":191,"y":-0.034},{"p":"BR","g":"B","m":"d","x":212,"y":-0.027},{"p":"BR","g":"B","m":"d","x":232,"y":-0.021},{"p":"BR","g":"B","m":"d","x":253,"y":-0.011},{"p":"BR","g":"B","m":"d","x":273,"y":-0.003},{"p":"BR","g":"B","m":"d","x":294,"y":0.005},{"p":"BR","g":"B","m":"d","x":314,"y":0.015},{"p":"BR","g":"B","m":"d","x":335,"y":0.023},{"p":"BR","g":"B","m":"d","x":355,"y":0.032},{"p":"BR","g":"B","m":"d","x":376,"y":0.039},{"p":"BR","g":"B","m":"d","x":396,"y":0.045},{"p":"BR","g":"B","m":"d","x":417,"y":0.052},{"p":"BR","g":"B","m":"d","x":437,"y":0.059},{"p":"BR","g":"B","m":"d","x":458,"y":0.066},{"p":"BR","g":"B","m":"d","x":500,"y":0.080}
]},
"data":{"name":"d"},
"concat":[
{"width":425,"height":290,
 "title":{"text":"\u0394\u2002POC\u2002EXP\u2002130\u2002m\u2002(Pg\u2002C\u2002y\u207b\u00b9)"},
 "transform":[{"filter":"datum.p=='TL'"}],
 "layer":[
  {"encoding":{
    "x":{"field":"x","type":"quantitative","scale":{"domain":[10,500],"nice":false,"zero":false},"axis":{"orient":"bottom","values":[50,100,150,200,250,300,350,400,450,500],"labelExpr":"datum.value % 100 == 50 ? datum.value + '.' : ''","title":"INTEGRATION\u2002YEAR","labelPadding":9,"titlePadding":14}},
    "y":{"field":"y","type":"quantitative","scale":{"domain":[-0.2,0.3],"nice":false,"zero":false},"axis":{"orient":"left","values":[-0.2,-0.18,-0.16,-0.14,-0.12,-0.1,-0.08,-0.06,-0.04,-0.02,0,0.02,0.04,0.06,0.08,0.1,0.12,0.14,0.16,0.18,0.2,0.22,0.24,0.26,0.28,0.3],"labelExpr":"abs(round(datum.value*100)) % 4 == 0 ? format(datum.value, '.2f') : ''","title":null,"labelPadding":13}},
    "color":{"field":"g","type":"nominal","scale":{"domain":["G","B"],"range":["#00ff00","#0000ff"]},"legend":null}},
   "layer":[
    {"transform":[{"filter":"datum.m=='t'"}],"mark":{"type":"line","strokeWidth":1.3,"strokeDash":[9,7],"interpolate":"monotone"}},
    {"transform":[{"filter":"datum.m=='k'"}],"mark":{"type":"line","strokeWidth":3,"strokeDash":[14,5],"interpolate":"monotone"}},
    {"transform":[{"filter":"datum.m=='d'"}],"mark":{"type":"line","strokeWidth":3.5,"strokeDash":[2.5,5.5],"interpolate":"monotone"}}
   ]},
  {"mark":{"type":"point","opacity":0},
   "encoding":{
    "x":{"field":"x","type":"quantitative","scale":{"domain":[10,500],"nice":false,"zero":false},"axis":{"orient":"top","values":[50,100,150,200,250,300,350,400,450,500],"labels":false,"title":null}},
    "y":{"field":"y","type":"quantitative","scale":{"domain":[-0.2,0.3],"nice":false,"zero":false},"axis":{"orient":"right","values":[-0.2,-0.18,-0.16,-0.14,-0.12,-0.1,-0.08,-0.06,-0.04,-0.02,0,0.02,0.04,0.06,0.08,0.1,0.12,0.14,0.16,0.18,0.2,0.22,0.24,0.26,0.28,0.3],"labels":false,"title":null}}}}
 ],
 "resolve":{"axis":{"x":"independent","y":"independent"}}
},
{"width":425,"height":290,
 "title":{"text":"\u0394\u2002PIC\u2002EXP\u2002130\u2002m\u2002(Pg\u2002C\u2002y\u207b\u00b9)"},
 "transform":[{"filter":"datum.p=='TR'"}],
 "layer":[
  {"encoding":{
    "x":{"field":"x","type":"quantitative","scale":{"domain":[10,500],"nice":false,"zero":false},"axis":{"orient":"bottom","values":[50,100,150,200,250,300,350,400,450,500],"labelExpr":"datum.value % 100 == 50 ? datum.value + '.' : ''","title":"INTEGRATION\u2002YEAR","labelPadding":9,"titlePadding":14}},
    "y":{"field":"y","type":"quantitative","scale":{"domain":[-0.3,0.3],"nice":false,"zero":false},"axis":{"orient":"left","values":[-0.3,-0.28,-0.26,-0.24,-0.22,-0.2,-0.18,-0.16,-0.14,-0.12,-0.1,-0.08,-0.06,-0.04,-0.02,0,0.02,0.04,0.06,0.08,0.1,0.12,0.14,0.16,0.18,0.2,0.22,0.24,0.26,0.28,0.3],"labelExpr":"abs(round(datum.value*100)) % 4 == 0 ? format(datum.value, '.2f') : ''","title":null,"labelPadding":13}},
    "color":{"field":"g","type":"nominal","scale":{"domain":["G","B"],"range":["#00ff00","#0000ff"]},"legend":null}},
   "layer":[
    {"transform":[{"filter":"datum.m=='t'"}],"mark":{"type":"line","strokeWidth":1.3,"strokeDash":[9,7],"interpolate":"monotone"}},
    {"transform":[{"filter":"datum.m=='k'"}],"mark":{"type":"line","strokeWidth":3,"strokeDash":[14,5],"interpolate":"monotone"}},
    {"transform":[{"filter":"datum.m=='d'"}],"mark":{"type":"line","strokeWidth":3.5,"strokeDash":[2.5,5.5],"interpolate":"monotone"}}
   ]},
  {"mark":{"type":"point","opacity":0},
   "encoding":{
    "x":{"field":"x","type":"quantitative","scale":{"domain":[10,500],"nice":false,"zero":false},"axis":{"orient":"top","values":[50,100,150,200,250,300,350,400,450,500],"labels":false,"title":null}},
    "y":{"field":"y","type":"quantitative","scale":{"domain":[-0.3,0.3],"nice":false,"zero":false},"axis":{"orient":"right","values":[-0.3,-0.28,-0.26,-0.24,-0.22,-0.2,-0.18,-0.16,-0.14,-0.12,-0.1,-0.08,-0.06,-0.04,-0.02,0,0.02,0.04,0.06,0.08,0.1,0.12,0.14,0.16,0.18,0.2,0.22,0.24,0.26,0.28,0.3],"labels":false,"title":null}}}}
 ],
 "resolve":{"axis":{"x":"independent","y":"independent"}}
},
{"width":425,"height":290,
 "title":{"text":"\u0394\u2002POC\u2002EXP\u20022\u2002km\u2002(Pg\u2002C\u2002y\u207b\u00b9)"},
 "transform":[{"filter":"datum.p=='BL'"}],
 "layer":[
  {"encoding":{
    "x":{"field":"x","type":"quantitative","scale":{"domain":[10,500],"nice":false,"zero":false},"axis":{"orient":"bottom","values":[50,100,150,200,250,300,350,400,450,500],"labelExpr":"datum.value % 100 == 50 ? datum.value + '.' : ''","title":"INTEGRATION\u2002YEAR","labelPadding":9,"titlePadding":14}},
    "y":{"field":"y","type":"quantitative","scale":{"domain":[-0.02,0.03],"nice":false,"zero":false},"axis":{"orient":"left","values":[-0.02,-0.018,-0.016,-0.014,-0.012,-0.01,-0.008,-0.006,-0.004,-0.002,0,0.002,0.004,0.006,0.008,0.01,0.012,0.014,0.016,0.018,0.02,0.022,0.024,0.026,0.028,0.03],"labelExpr":"abs(round(datum.value*1000)) % 4 == 0 ? format(datum.value, '.3f') : ''","title":null,"labelPadding":13}},
    "color":{"field":"g","type":"nominal","scale":{"domain":["G","B"],"range":["#00ff00","#0000ff"]},"legend":null}},
   "layer":[
    {"transform":[{"filter":"datum.m=='t'"}],"mark":{"type":"line","strokeWidth":1.3,"strokeDash":[9,7],"interpolate":"monotone"}},
    {"transform":[{"filter":"datum.m=='k'"}],"mark":{"type":"line","strokeWidth":3,"strokeDash":[14,5],"interpolate":"monotone"}},
    {"transform":[{"filter":"datum.m=='d'"}],"mark":{"type":"line","strokeWidth":3.5,"strokeDash":[2.5,5.5],"interpolate":"monotone"}}
   ]},
  {"mark":{"type":"point","opacity":0},
   "encoding":{
    "x":{"field":"x","type":"quantitative","scale":{"domain":[10,500],"nice":false,"zero":false},"axis":{"orient":"top","values":[50,100,150,200,250,300,350,400,450,500],"labels":false,"title":null}},
    "y":{"field":"y","type":"quantitative","scale":{"domain":[-0.02,0.03],"nice":false,"zero":false},"axis":{"orient":"right","values":[-0.02,-0.018,-0.016,-0.014,-0.012,-0.01,-0.008,-0.006,-0.004,-0.002,0,0.002,0.004,0.006,0.008,0.01,0.012,0.014,0.016,0.018,0.02,0.022,0.024,0.026,0.028,0.03],"labels":false,"title":null}}}}
 ],
 "resolve":{"axis":{"x":"independent","y":"independent"}}
},
{"width":425,"height":290,
 "title":{"text":"\u0394\u2002PIC\u2002EXP\u20022\u2002km\u2002(Pg\u2002C\u2002y\u207b\u00b9)"},
 "transform":[{"filter":"datum.p=='BR'"}],
 "layer":[
  {"encoding":{
    "x":{"field":"x","type":"quantitative","scale":{"domain":[10,500],"nice":false,"zero":false},"axis":{"orient":"bottom","values":[50,100,150,200,250,300,350,400,450,500],"labelExpr":"datum.value % 100 == 50 ? datum.value + '.' : ''","title":"INTEGRATION\u2002YEAR","labelPadding":9,"titlePadding":14}},
    "y":{"field":"y","type":"quantitative","scale":{"domain":[-0.2,0.2],"nice":false,"zero":false},"axis":{"orient":"left","values":[-0.2,-0.18,-0.16,-0.14,-0.12,-0.1,-0.08,-0.06,-0.04,-0.02,0,0.02,0.04,0.06,0.08,0.1,0.12,0.14,0.16,0.18,0.2],"labelExpr":"abs(round(datum.value*100)) % 4 == 0 ? format(datum.value, '.2f') : ''","title":null,"labelPadding":13}},
    "color":{"field":"g","type":"nominal","scale":{"domain":["G","B"],"range":["#00ff00","#0000ff"]},"legend":null}},
   "layer":[
    {"transform":[{"filter":"datum.m=='t'"}],"mark":{"type":"line","strokeWidth":1.3,"strokeDash":[9,7],"interpolate":"monotone"}},
    {"transform":[{"filter":"datum.m=='k'"}],"mark":{"type":"line","strokeWidth":3,"strokeDash":[14,5],"interpolate":"monotone"}},
    {"transform":[{"filter":"datum.m=='d'"}],"mark":{"type":"line","strokeWidth":3.5,"strokeDash":[2.5,5.5],"interpolate":"monotone"}}
   ]},
  {"mark":{"type":"point","opacity":0},
   "encoding":{
    "x":{"field":"x","type":"quantitative","scale":{"domain":[10,500],"nice":false,"zero":false},"axis":{"orient":"top","values":[50,100,150,200,250,300,350,400,450,500],"labels":false,"title":null}},
    "y":{"field":"y","type":"quantitative","scale":{"domain":[-0.2,0.2],"nice":false,"zero":false},"axis":{"orient":"right","values":[-0.2,-0.18,-0.16,-0.14,-0.12,-0.1,-0.08,-0.06,-0.04,-0.02,0,0.02,0.04,0.06,0.08,0.1,0.12,0.14,0.16,0.18,0.2],"labels":false,"title":null}}}}
 ],
 "resolve":{"axis":{"x":"independent","y":"independent"}}
}
],
"config":{
 "view":{"stroke":null},
 "font":"DejaVu Sans",
 "title":{"font":"DejaVu Sans","fontSize":25,"fontWeight":"normal","color":"black","offset":12,"anchor":"middle"},
 "axis":{"grid":false,"domainColor":"black","domainWidth":2.5,"tickColor":"black","tickWidth":2.5,"tickSize":10,"labelFont":"DejaVu Sans","labelFontSize":18,"labelColor":"black","labelOverlap":false,"labelFlush":false,"titleFont":"DejaVu Sans","titleFontSize":23,"titleFontWeight":"normal","titleColor":"black"}
}
}
